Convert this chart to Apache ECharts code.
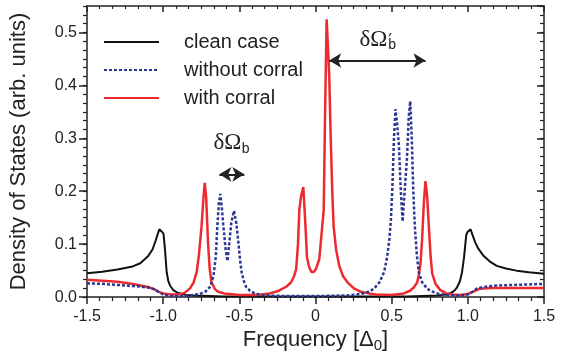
<!DOCTYPE html>
<html>
<head>
<meta charset="utf-8">
<script src="https://cdn.jsdelivr.net/npm/echarts@6/dist/echarts.min.js"></script>
<style>
  html, body { margin: 0; padding: 0; background: #fff; }
  #chart { width: 569px; height: 358px; }
</style>
</head>
<body>
<div id="chart"></div>
<script>
// clean case (black)
const cleanX = [-1.5, -1.4, -1.3, -1.2, -1.15, -1.1, -1.07, -1.05, -1.035, -1.025, -1.01, -0.998, -0.988, -0.977, -0.966, -0.955, -0.933, -0.91, -0.89, -0.85, -0.8, -0.6, 0, 0.6, 0.8, 0.86, 0.89, 0.915, 0.93, 0.948, 0.962, 0.975, 0.99, 1.0, 1.018, 1.03, 1.049, 1.07, 1.103, 1.15, 1.19, 1.25, 1.32, 1.4, 1.5];
const cleanY = [0.045, 0.048, 0.052, 0.058, 0.064, 0.077, 0.09, 0.106, 0.12, 0.128, 0.124, 0.12, 0.09, 0.047, 0.03, 0.022, 0.013, 0.009, 0.007, 0.004, 0.003, 0.001, 0.001, 0.001, 0.003, 0.005, 0.008, 0.013, 0.019, 0.03, 0.047, 0.075, 0.118, 0.124, 0.128, 0.118, 0.103, 0.091, 0.078, 0.066, 0.059, 0.054, 0.05, 0.047, 0.044];

// without corral (blue dotted)
const noCorralX = [-1.5, -1.4, -1.3, -1.2, -1.15, -1.1, -1.06, -1.03, -1.0, -0.97, -0.9, -0.85, -0.8, -0.75, -0.72, -0.69, -0.67, -0.655, -0.645, -0.635, -0.625, -0.615, -0.605, -0.59, -0.578, -0.565, -0.553, -0.535, -0.52, -0.508, -0.495, -0.485, -0.47, -0.455, -0.43, -0.4, -0.35, -0.3, -0.2, 0, 0.2, 0.3, 0.35, 0.384, 0.42, 0.45, 0.47, 0.485, 0.495, 0.505, 0.515, 0.525, 0.535, 0.548, 0.56, 0.572, 0.585, 0.6, 0.612, 0.622, 0.632, 0.642, 0.652, 0.665, 0.678, 0.7, 0.733, 0.76, 0.8, 0.85, 0.95, 1.0, 1.03, 1.06, 1.1, 1.19, 1.3, 1.5];
const noCorralY = [0.026, 0.025, 0.023, 0.021, 0.02, 0.018, 0.015, 0.01, 0.005, 0.003, 0.002, 0.002, 0.004, 0.007, 0.011, 0.02, 0.04, 0.075, 0.13, 0.175, 0.195, 0.17, 0.135, 0.09, 0.068, 0.105, 0.14, 0.163, 0.14, 0.108, 0.07, 0.047, 0.03, 0.019, 0.012, 0.007, 0.004, 0.003, 0.002, 0.002, 0.003, 0.006, 0.01, 0.016, 0.028, 0.047, 0.075, 0.11, 0.145, 0.21, 0.3, 0.355, 0.33, 0.285, 0.2, 0.143, 0.2, 0.26, 0.34, 0.37, 0.3, 0.2, 0.134, 0.08, 0.047, 0.028, 0.016, 0.011, 0.007, 0.004, 0.003, 0.005, 0.01, 0.016, 0.019, 0.022, 0.023, 0.025];

// with corral (red)
const corralX = [-1.5, -1.4, -1.3, -1.2, -1.15, -1.1, -1.06, -1.03, -1.0, -0.95, -0.9, -0.86, -0.825, -0.8, -0.78, -0.765, -0.748, -0.735, -0.727, -0.718, -0.705, -0.695, -0.683, -0.66, -0.64, -0.6, -0.5, -0.4, -0.356, -0.3, -0.25, -0.19, -0.16, -0.14, -0.127, -0.115, -0.106, -0.095, -0.08, -0.065, -0.056, -0.04, -0.025, -0.01, 0.003, 0.025, 0.04, 0.054, 0.062, 0.073, 0.082, 0.09, 0.1, 0.11, 0.119, 0.135, 0.156, 0.18, 0.21, 0.25, 0.297, 0.35, 0.4, 0.5, 0.58, 0.62, 0.645, 0.668, 0.68, 0.69, 0.7, 0.711, 0.722, 0.733, 0.744, 0.755, 0.766, 0.788, 0.82, 0.86, 0.9, 0.95, 1.0, 1.04, 1.08, 1.15, 1.5];
const corralY = [0.033, 0.031, 0.029, 0.025, 0.022, 0.019, 0.015, 0.01, 0.007, 0.005, 0.005, 0.008, 0.016, 0.028, 0.047, 0.08, 0.134, 0.19, 0.216, 0.19, 0.1, 0.055, 0.028, 0.015, 0.01, 0.007, 0.004, 0.004, 0.005, 0.007, 0.011, 0.02, 0.028, 0.04, 0.053, 0.1, 0.165, 0.19, 0.208, 0.13, 0.075, 0.055, 0.047, 0.048, 0.053, 0.072, 0.12, 0.165, 0.33, 0.525, 0.47, 0.419, 0.3, 0.2, 0.134, 0.09, 0.059, 0.04, 0.028, 0.017, 0.01, 0.007, 0.005, 0.004, 0.007, 0.012, 0.018, 0.028, 0.045, 0.066, 0.11, 0.177, 0.219, 0.19, 0.134, 0.08, 0.045, 0.025, 0.013, 0.007, 0.005, 0.004, 0.006, 0.011, 0.016, 0.017, 0.017];

// double arrows: [x1, x2, y]
const arrowSmall = [-0.631, -0.467, 0.232];
const arrowLarge = [0.09, 0.722, 0.447];

const FONT = 'Liberation Sans, Arial, sans-serif';
const toPairs = (xs, ys) => xs.map((x, i) => [x, ys[i]]);

const chart = echarts.init(document.getElementById('chart'));

const axisLine = { show: true, onZero: false, lineStyle: { color: '#222', width: 1.5 } };
const noLine = { show: false, onZero: false };

chart.setOption({
  animation: false,
  grid: { left: 85, right: 25, top: 6, bottom: 56 },
  legend: {
    left: 103,
    top: 31,
    padding: 0,
    orient: 'vertical',
    itemWidth: 55,
    itemHeight: 14,
    itemGap: 6,
    itemStyle: { opacity: 0 },
    textStyle: { fontFamily: FONT, fontSize: 20, color: '#222', lineHeight: 22, padding: [0, 0, 0, 20] },
    data: ['clean case', 'without corral', 'with corral']
  },
  xAxis: [
    {
      type: 'value', position: 'bottom', min: -1.5, max: 1.5, interval: 0.5,
      axisLine: axisLine,
      axisTick: { show: true, inside: false, length: 7, lineStyle: { color: '#222', width: 1.5 } },
      minorTick: { show: true, splitNumber: 6, length: 4, lineStyle: { color: '#222', width: 1.2 } },
      splitLine: { show: false },
      axisLabel: {
        margin: 11, fontFamily: FONT, fontSize: 16, color: '#222',
        formatter: v => (Math.abs(v) < 1e-9 ? '0' : v.toFixed(1))
      },
      name: '{t|Frequency [Δ}{s|0}{t|]}',
      nameLocation: 'middle',
      nameGap: 22,
      nameTextStyle: {
        rich: {
          t: { fontFamily: FONT, fontSize: 22, color: '#222', lineHeight: 26 },
          s: { fontFamily: FONT, fontSize: 15, color: '#222', lineHeight: 26, verticalAlign: 'bottom', padding: [8, 0, 0, 0] }
        }
      }
    },
    {
      type: 'value', position: 'top', min: -1.5, max: 1.5, interval: 0.5,
      axisLine: axisLine,
      axisTick: { show: true, inside: true, length: 6, lineStyle: { color: '#222', width: 1.5 } },
      minorTick: { show: true, splitNumber: 6, length: 3, lineStyle: { color: '#222', width: 1.2 } },
      splitLine: { show: false },
      axisLabel: { show: false }
    }
  ],
  yAxis: [
    {
      type: 'value', position: 'left', min: 0, max: 0.55, interval: 0.1,
      axisLine: axisLine,
      axisTick: { show: true, inside: false, length: 8, lineStyle: { color: '#222', width: 1.5 } },
      splitLine: { show: false },
      axisLabel: {
        margin: 10, fontFamily: FONT, fontSize: 16, color: '#222', showMaxLabel: false,
        formatter: v => v.toFixed(1)
      },
      name: 'Density of States (arb. units)',
      nameLocation: 'middle',
      nameGap: 57,
      nameTextStyle: { fontFamily: FONT, fontSize: 22, color: '#222' }
    },
    {
      type: 'value', position: 'left', min: 0, max: 0.55, interval: 1 / 60,
      axisLine: noLine,
      axisTick: { show: true, inside: false, length: 4, lineStyle: { color: '#222', width: 1.2 } },
      splitLine: { show: false },
      axisLabel: { show: false }
    },
    {
      type: 'value', position: 'right', min: 0, max: 0.55, interval: 0.1,
      axisLine: axisLine,
      axisTick: { show: true, inside: true, length: 7, lineStyle: { color: '#222', width: 1.5 } },
      splitLine: { show: false },
      axisLabel: { show: false }
    },
    {
      type: 'value', position: 'right', min: 0, max: 0.55, interval: 1 / 60,
      axisLine: noLine,
      axisTick: { show: true, inside: true, length: 4, lineStyle: { color: '#222', width: 1.2 } },
      splitLine: { show: false },
      axisLabel: { show: false }
    }
  ],
  series: [
    {
      name: 'clean case', type: 'line', symbol: 'none',
      data: toPairs(cleanX, cleanY),
      lineStyle: { color: '#111', width: 2 }, itemStyle: { color: '#111' }
    },
    {
      name: 'with corral', type: 'line', symbol: 'none',
      data: toPairs(corralX, corralY),
      lineStyle: { color: '#ec2a2f', width: 2.5 }, itemStyle: { color: '#ec2a2f' },
      markLine: {
        silent: true,
        symbol: ['arrow', 'arrow'],
        symbolSize: [11, 12],
        label: { show: false },
        lineStyle: { color: '#222', width: 2, type: 'solid' },
        data: [
          [{ coord: [arrowSmall[0], arrowSmall[2]] }, { coord: [arrowSmall[1], arrowSmall[2]] }],
          [{ coord: [arrowLarge[0], arrowLarge[2]] }, { coord: [arrowLarge[1], arrowLarge[2]] }]
        ]
      }
    },
    {
      name: 'without corral', type: 'line', symbol: 'none',
      data: toPairs(noCorralX, noCorralY),
      lineStyle: { color: '#2b3795', width: 2.5, type: [3, 2] }, itemStyle: { color: '#2b3795' }
    }
  ]
});

// annotation labels placed relative to the arrows
const mid = a => chart.convertToPixel({ gridIndex: 0 }, [(a[0] + a[1]) / 2, a[2]]);
const p1 = mid(arrowSmall);
const p2 = mid(arrowLarge);
const SERIF = 'Liberation Serif, Times New Roman, serif';
chart.setOption({
  graphic: [
    { type: 'text', x: p1[0] + 9.5, y: p1[1] - 20, style: { text: 'δΩ', font: '23px ' + SERIF, fill: '#222', align: 'right', verticalAlign: 'bottom' } },
    { type: 'text', x: p1[0] + 10, y: p1[1] - 18, style: { text: 'b', font: '14px ' + FONT, fill: '#222', align: 'left', verticalAlign: 'bottom' } },
    { type: 'text', x: p2[0] + 10, y: p2[1] - 9, style: { text: 'δΩ', font: '23px ' + SERIF, fill: '#222', align: 'right', verticalAlign: 'bottom' } },
    { type: 'text', x: p2[0] + 11, y: p2[1] - 8, style: { text: 'b', font: '14px ' + FONT, fill: '#222', align: 'left', verticalAlign: 'bottom' } },
    { type: 'text', x: p2[0] + 11, y: p2[1] - 27, style: { text: '\u2032', font: '17px DejaVu Sans', fill: '#222', align: 'left', verticalAlign: 'top' } }
  ]
});
</script>
</body>
</html>
